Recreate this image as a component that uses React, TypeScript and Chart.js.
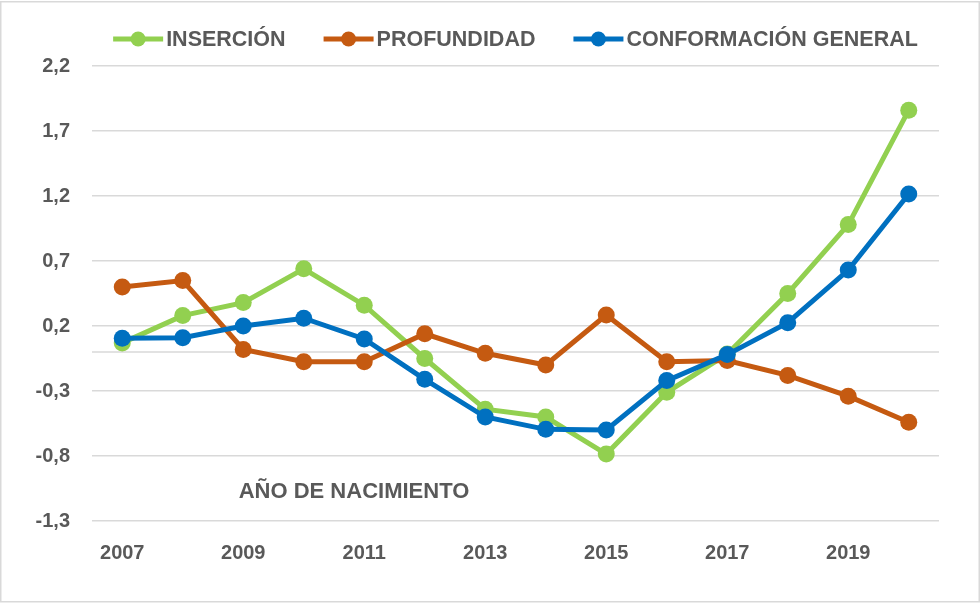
import React, { useEffect, useRef } from "react";
import { Chart, registerables } from "chart.js";

Chart.register(...registerables);

// Birth years on the category axis
const years = ["2007", "2008", "2009", "2010", "2011", "2012", "2013", "2014", "2015", "2016", "2017", "2018", "2019", "2020"];

// Index values per series
const insercion = [0.07, 0.28, 0.38, 0.64, 0.36, -0.05, -0.44, -0.5, -0.785, -0.31, -0.015, 0.45, 0.98, 1.86];
const profundidad = [0.5, 0.55, 0.02, -0.075, -0.075, 0.14, -0.01, -0.1, 0.285, -0.075, -0.065, -0.18, -0.34, -0.54];
const conformacion = [0.105, 0.11, 0.2, 0.26, 0.1, -0.21, -0.5, -0.595, -0.6, -0.22, -0.02, 0.225, 0.63, 1.215];

const seriesNames = ["INSERCIÓN", "PROFUNDIDAD", "CONFORMACIÓN GENERAL"];
const seriesColors = ["#92D050", "#C55A11", "#0070C0"];

// Value axis range
const yMin = -1.3;
const yMax = 2.2;
const yStep = 0.5;

const axisTitle = "AÑO DE NACIMIENTO";

const FONT = "'Liberation Sans', Arial, sans-serif";
const TEXT = "#595959";
const GRID = "#d9d9d9";

const extras = {
  id: "extras",
  beforeDatasetsDraw(chart: any) {
    const { ctx, chartArea, scales } = chart;
    // horizontal category axis line crossing at zero
    const y0 = scales.y.getPixelForValue(0);
    ctx.save();
    ctx.strokeStyle = GRID;
    ctx.lineWidth = 1.5;
    ctx.beginPath();
    ctx.moveTo(chartArea.left, y0);
    ctx.lineTo(chartArea.right, y0);
    ctx.stroke();
    ctx.restore();
  },
  afterDraw(chart: any) {
    const { ctx, chartArea, width, height } = chart;
    ctx.save();

    // axis title placed inside the plot
    ctx.fillStyle = TEXT;
    ctx.font = `bold 22px ${FONT}`;
    ctx.textAlign = "center";
    ctx.textBaseline = "middle";
    ctx.fillText(axisTitle, chartArea.left + 262, chartArea.bottom - 29);

    // legend: line-with-marker symbol followed by the label
    ctx.font = `bold 21.5px ${FONT}`;
    const symW = 50;
    const symGap = 3;
    const itemGap = 38;
    const widths = seriesNames.map((n) => ctx.measureText(n).width);
    const total = widths.reduce((a, w) => a + symW + symGap + w, 0) + itemGap * (seriesNames.length - 1);
    let x = (chartArea.left + chartArea.right) / 2 - total / 2;
    const ly = 39;
    seriesNames.forEach((name, i) => {
      ctx.strokeStyle = seriesColors[i];
      ctx.fillStyle = seriesColors[i];
      ctx.lineWidth = 5;
      ctx.beginPath();
      ctx.moveTo(x, ly);
      ctx.lineTo(x + symW, ly);
      ctx.stroke();
      ctx.beginPath();
      ctx.arc(x + symW / 2, ly, 7.5, 0, Math.PI * 2);
      ctx.fill();
      ctx.fillStyle = TEXT;
      ctx.textAlign = "left";
      ctx.textBaseline = "middle";
      ctx.fillText(name, x + symW + symGap, ly + 1);
      x += symW + symGap + widths[i] + itemGap;
    });

    // chart frame
    ctx.strokeStyle = GRID;
    ctx.lineWidth = 1.5;
    ctx.strokeRect(0.75, 1.75, width - 1.5, height - 3);
    ctx.restore();
  },
};

export default function App() {
  const ref = useRef<HTMLCanvasElement | null>(null);

  useEffect(() => {
    if (!ref.current) return;
    const series = [insercion, profundidad, conformacion];
    const chart = new Chart(ref.current, {
      type: "line",
      data: {
        labels: years,
        datasets: series.map((data, i) => ({
          label: seriesNames[i],
          data,
          borderColor: seriesColors[i],
          backgroundColor: seriesColors[i],
          borderWidth: 5,
          pointRadius: 8.5,
          pointBorderWidth: 0,
          pointBackgroundColor: seriesColors[i],
          tension: 0,
          order: series.length - i,
        })),
      },
      options: {
        responsive: false,
        animation: false,
        layout: { padding: { top: 66, left: 0, right: 41, bottom: 0 } },
        plugins: {
          legend: { display: false },
          tooltip: { enabled: false },
        },
        scales: {
          x: {
            offset: true,
            grid: { display: false, drawTicks: false },
            border: { display: false },
            ticks: {
              autoSkip: false,
              maxRotation: 0,
              padding: 20,
              color: TEXT,
              font: { family: FONT, size: 20, weight: "bold" },
              callback: (_v: any, idx: number) => (idx % 2 === 0 ? years[idx] : ""),
            },
            afterFit: (axis: any) => {
              axis.height = 82;
            },
          },
          y: {
            min: yMin,
            max: yMax,
            grid: { color: GRID, lineWidth: 1.5, drawTicks: false },
            border: { display: false },
            ticks: {
              stepSize: yStep,
              padding: 22,
              color: TEXT,
              font: { family: FONT, size: 20, weight: "bold" },
              callback: (v: any) => Number(v).toFixed(1).replace(".", ","),
            },
            afterFit: (axis: any) => {
              axis.width = 92;
            },
          },
        },
      },
      plugins: [extras],
    });
    return () => chart.destroy();
  }, []);

  return (
    <div style={{ position: "absolute", left: 0, top: 0, width: 980, height: 603, background: "#fff" }}>
      <canvas ref={ref} width={980} height={603} />
    </div>
  );
}
